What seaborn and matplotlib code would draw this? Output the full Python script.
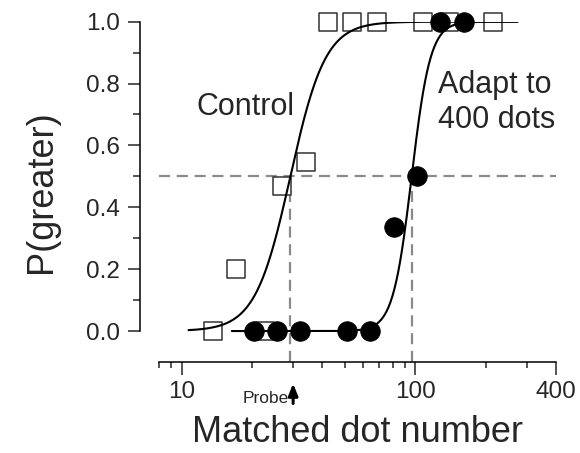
import numpy as np
import pandas as pd
import matplotlib
matplotlib.use("Agg")
import matplotlib.pyplot as plt
import seaborn as sns

# data
ctrl_x = [13.6, 17.1, 22.8, 26.9, 34.1, 42.5, 53.8, 68.9, 107.5, 139, 214.6]
ctrl_y = [0.0, 0.2, 0.0, 0.47, 0.545, 1.0, 1.0, 1.0, 1.0, 1.0, 1.0]
adapt_x = [20.4, 25.6, 32.2, 51, 64.3, 81, 101.9, 128, 161]
adapt_y = [0.0, 0.0, 0.0, 0.0, 0.0, 0.335, 0.5, 1.0, 1.0]

# logistic fits on log10(dots): PSE, slope, curve range
ctrl_pse, ctrl_slope, ctrl_range = 29.2, 0.075, (10.7, 274)
adapt_pse, adapt_slope, adapt_range = 96.5, 0.04, (16.4, 274)

x_ticks = [10, 100, 400]
x_minor = [8, 9, 20, 30, 40, 50, 60, 70, 80, 90, 200, 300]
y_ticks = [0.0, 0.2, 0.4, 0.6, 0.8, 1.0]
y_minor = [0.1, 0.3, 0.5, 0.7, 0.9]
probe = 30


def fit_curve(pse, slope, rng):
    xs = np.logspace(np.log10(rng[0]), np.log10(rng[1]), 300)
    ys = 1 / (1 + np.exp(-(np.log10(xs) - np.log10(pse)) / slope))
    return pd.DataFrame({"x": xs, "y": ys})


sns.set_style("ticks")
plt.rcParams["font.family"] = ["Liberation Sans", "DejaVu Sans"]

fig = plt.figure(figsize=(5.8, 4.53), dpi=100)
ax = fig.add_axes([0.2741, 0.2009, 0.6845, 0.7513])
ax.set_xscale("log")

grey = "#8a8a8a"
ax.axhline(0.5, color=grey, lw=1.6, ls=(0, (5, 3)), zorder=1)
ax.vlines([ctrl_pse, adapt_pse], -0.1, 0.5, color=grey, lw=1.6, ls=(0, (5, 3)), zorder=1)

sns.lineplot(data=fit_curve(ctrl_pse, ctrl_slope, ctrl_range), x="x", y="y",
             color="black", lw=1.5, ax=ax, zorder=3)
sns.lineplot(data=fit_curve(adapt_pse, adapt_slope, adapt_range), x="x", y="y",
             color="black", lw=1.5, ax=ax, zorder=3)

sns.scatterplot(x=ctrl_x, y=ctrl_y, marker="s", s=150, facecolor="white",
                edgecolor="#333333", linewidth=1.1, ax=ax, zorder=2, clip_on=False)
sns.scatterplot(x=adapt_x, y=adapt_y, marker="o", s=200, color="black",
                edgecolor="black", linewidth=0.5, ax=ax, zorder=4, clip_on=False)

ax.set_xlim(8, 400)
ax.set_ylim(-0.1, 1.0)

ax.set_xticks(x_ticks)
ax.set_xticklabels([str(t) for t in x_ticks])
ax.set_xticks(x_minor, minor=True)
ax.set_xticklabels([], minor=True)
ax.set_yticks(y_ticks)
ax.set_yticklabels([f"{t:.1f}" for t in y_ticks])
ax.set_yticks(y_minor, minor=True)

ax.tick_params(axis="x", which="major", length=9, width=1.1, labelsize=17.5, pad=5)
ax.tick_params(axis="x", which="minor", length=4.5, width=1.1)
ax.tick_params(axis="y", which="major", length=8.6, width=1.1, labelsize=17.5, pad=6)
ax.tick_params(axis="y", which="minor", length=5, width=1.1)

sns.despine(ax=ax)
ax.spines["left"].set_position(("outward", 13.7))
ax.spines["left"].set_bounds(0, 1)
for s in ("left", "bottom"):
    ax.spines[s].set_linewidth(1.1)
    ax.spines[s].set_color("black")

ax.set_xlabel("Matched dot number", fontsize=26, labelpad=8)
ax.set_ylabel("P(greater)", fontsize=26, labelpad=19)

ax.text(11.6, 0.698, "Control", fontsize=22, ha="left", va="baseline")
ax.text(124.6, 0.656, "Adapt to\n400 dots", fontsize=22, ha="left", va="baseline",
        linespacing=1.2)

ax.annotate("", xy=(probe, -0.055), xytext=(probe, -0.13),
            xycoords=("data", "axes fraction"), textcoords=("data", "axes fraction"),
            arrowprops=dict(arrowstyle="-|>,head_length=0.7,head_width=0.28",
                            color="black", lw=2.2), annotation_clip=False)
ax.text(probe * 0.955, -0.108, "Probe", fontsize=12.5, ha="right", va="center",
        transform=ax.get_xaxis_transform())

fig.savefig("out.png", dpi=100)
